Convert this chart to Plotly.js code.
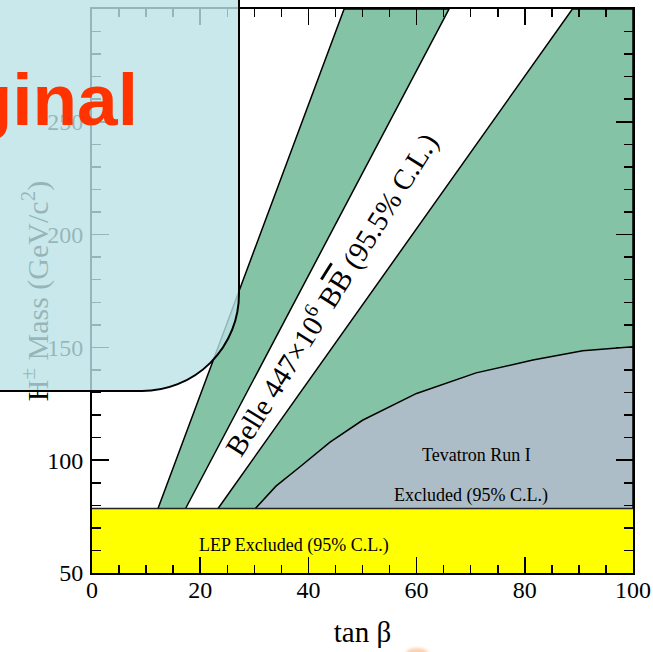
<!DOCTYPE html>
<html>
<head>
<meta charset="utf-8">
<script src="https://cdn.plot.ly/plotly-3.0.1.min.js"></script>
<style>
  html, body { margin: 0; padding: 0; background: #ffffff; overflow: hidden; }
  #wrap { position: relative; width: 653px; height: 652px; overflow: hidden; }
  #chart { position: absolute; left: 0; top: 0; width: 653px; height: 652px; }
  #overlay {
    position: absolute; left: -30px; top: -30px;
    width: 270px; height: 422px; box-sizing: border-box;
    border: 2.5px solid #000000; border-bottom-right-radius: 98px;
    background: rgba(188, 226, 230, 0.80);
  }
  #stamp {
    position: absolute; left: 138px; top: 63px; transform: translateX(-100%);
    font-family: 'Liberation Sans', Arial, sans-serif; font-weight: bold;
    font-size: 73px; line-height: 73px; color: #ff3300; white-space: nowrap;
  }
  #blob {
    position: absolute; left: 406px; top: 648px; width: 22px; height: 10px;
    border-radius: 50%; background: rgba(250, 150, 80, 0.45); filter: blur(1.5px);
  }
</style>
</head>
<body>
<div id="wrap">
  <div id="chart"></div>
  <div id="overlay"></div>
  <div id="stamp">Original</div>
  <div id="blob"></div>
</div>
<script>
// ---- data ----
const tanbRange = [0, 100];
const massRange = [50, 300];
const lepLimit = 78.6;                       // LEP excluded below this mass
// Belle b->tau nu boundaries: tan(beta) where each boundary meets the LEP limit and the top of the plot
const belleTanbAtLEP = [12.2, 17.3, 23.3];
const belleTanbAtTop = [46.6, 66.0, 88.8];
// Tevatron Run I exclusion boundary
const tevTanb = [30.2, 34.0, 38.4, 44.0, 50.0, 60.0, 71.0, 81.5, 90.7, 100.0];
const tevMass = [78.6, 88.5, 97.0, 108.0, 117.7, 129.6, 138.7, 144.4, 148.5, 150.3];
// tick settings
const xTickStep = 20, xMinorStep = 5;
const yTickStep = 50, yMinorStep = 10;

const GREEN = '#84c3a5';
const GREY = '#adbdc7';
const YELLOW = '#ffff00';
const SERIF = 'Liberation Serif, Times New Roman, serif';
const edge = { color: '#000000', width: 1.5 };

const traces = [
  { // LEP excluded
    type: 'scatter', mode: 'lines',
    x: [tanbRange[0], tanbRange[1], tanbRange[1], tanbRange[0]],
    y: [massRange[0], massRange[0], lepLimit, lepLimit],
    fill: 'toself', fillcolor: YELLOW, line: { width: 0 }, hoverinfo: 'skip'
  },
  { // Belle excluded band 1
    type: 'scatter', mode: 'lines',
    x: [belleTanbAtLEP[0], belleTanbAtTop[0], belleTanbAtTop[1], belleTanbAtLEP[1]],
    y: [lepLimit, massRange[1], massRange[1], lepLimit],
    fill: 'toself', fillcolor: GREEN, line: edge, hoverinfo: 'skip'
  },
  { // Belle excluded region 2
    type: 'scatter', mode: 'lines',
    x: [belleTanbAtLEP[2], belleTanbAtTop[2], tanbRange[1], tanbRange[1]],
    y: [lepLimit, massRange[1], massRange[1], lepLimit],
    fill: 'toself', fillcolor: GREEN, line: edge, hoverinfo: 'skip'
  },
  { // Tevatron excluded
    type: 'scatter', mode: 'lines',
    x: tevTanb.concat([tanbRange[1]]),
    y: tevMass.concat([lepLimit]),
    fill: 'toself', fillcolor: GREY, line: edge, hoverinfo: 'skip'
  },
  { // LEP limit line
    type: 'scatter', mode: 'lines',
    x: [tanbRange[0], tanbRange[1]], y: [lepLimit, lepLimit],
    line: { color: '#222222', width: 1.5 }, hoverinfo: 'skip'
  }
];

const axisCommon = {
  showgrid: false, zeroline: false, showline: true, linecolor: '#000000', linewidth: 2,
  mirror: 'ticks', ticks: 'inside', tickcolor: '#000000', tickwidth: 1.5,
  tickfont: { family: SERIF, size: 24, color: '#000000' }
};

const layout = {
  width: 653, height: 652,
  margin: { l: 92, r: 20, t: 9, b: 79 },
  paper_bgcolor: '#ffffff', plot_bgcolor: '#ffffff',
  showlegend: false,
  xaxis: Object.assign({}, axisCommon, {
    range: tanbRange, dtick: xTickStep, tick0: 0, ticklen: 16,
    minor: { dtick: xMinorStep, ticklen: 8, tickwidth: 1.5, tickcolor: '#000000', ticks: 'inside' },
    ticklabelstandoff: -6,
    title: { text: 'tan β', font: { family: SERIF, size: 29, color: '#000000' }, standoff: 20 }
  }),
  yaxis: Object.assign({}, axisCommon, {
    range: massRange, dtick: yTickStep, tick0: 0, ticklen: 17,
    minor: { dtick: yMinorStep, ticklen: 9, tickwidth: 1.5, tickcolor: '#000000', ticks: 'inside' },
    ticklabelstandoff: 2
  }),
  annotations: [
    { // y-axis title
      xref: 'paper', yref: 'paper', x: -0.105, y: 0.5, textangle: -90, showarrow: false,
      xanchor: 'center', yanchor: 'middle',
      text: 'H<sup>±</sup> Mass (GeV/c<sup>2</sup>)',
      font: { family: SERIF, size: 30, color: '#000000' } },
    { xref: 'x', yref: 'y', x: 44.0, y: 174, textangle: -58, showarrow: false,
      xanchor: 'center', yanchor: 'middle',
      text: 'Belle 447×10<sup>6</sup> B<span style="text-decoration:overline">B</span> (95.5% C.L.)',
      font: { family: SERIF, size: 29, color: '#000000' } },
    { xref: 'x', yref: 'y', x: 71.0, y: 102.2, showarrow: false, xanchor: 'center', yanchor: 'middle',
      text: 'Tevatron Run I', font: { family: SERIF, size: 18, color: '#000000' } },
    { xref: 'x', yref: 'y', x: 70.1, y: 84.5, showarrow: false, xanchor: 'center', yanchor: 'middle',
      text: 'Excluded (95% C.L.)', font: { family: SERIF, size: 18, color: '#000000' } },
    { xref: 'x', yref: 'y', x: 37.3, y: 62.0, showarrow: false, xanchor: 'center', yanchor: 'middle',
      text: 'LEP Excluded (95% C.L.)', font: { family: SERIF, size: 18, color: '#000000' } }
  ]
};

Plotly.newPlot('chart', traces, layout, { displayModeBar: false, staticPlot: true });
</script>
</body>
</html>
